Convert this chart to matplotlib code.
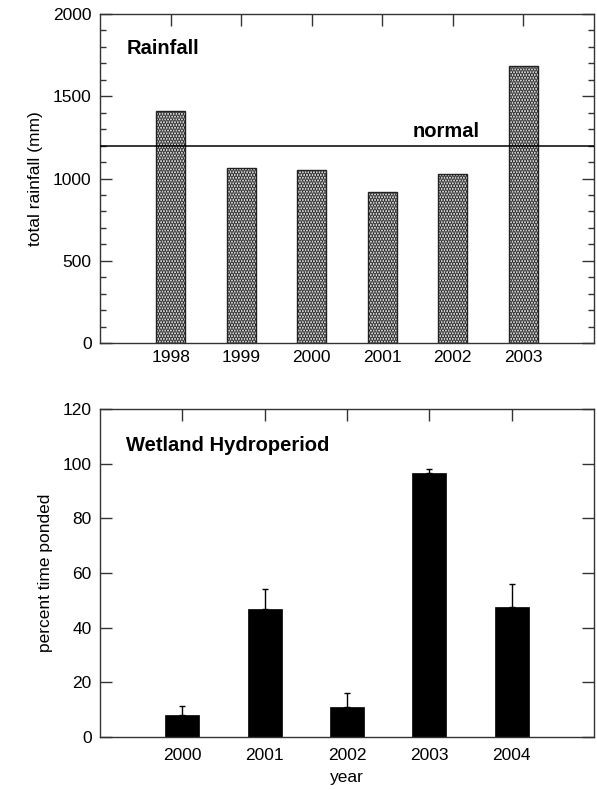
import matplotlib
matplotlib.use("Agg")
import matplotlib.pyplot as plt
from matplotlib.ticker import MultipleLocator

plt.rcParams["font.family"] = ["Liberation Sans", "DejaVu Sans"]
plt.rcParams["hatch.linewidth"] = 1.8

# rainfall per year
rain_years = [1998, 1999, 2000, 2001, 2002, 2003]
rain_mm = [1410, 1062, 1052, 920, 1027, 1682]
normal_rain = 1200

# wetland hydroperiod
wet_years = [2000, 2001, 2002, 2003, 2004]
pct_ponded = [8, 47, 11, 96.5, 47.5]
pct_err = [3.3, 7, 5, 1.5, 8.5]

fig = plt.figure(figsize=(5.97, 7.90), dpi=100)
ax1 = fig.add_axes([0.1675, 0.5658, 0.8275, 0.4165])
ax2 = fig.add_axes([0.1675, 0.0671, 0.8275, 0.4152])

spine_col = "#333333"
lab_fs = 12.5

# top panel
ax1.bar(rain_years, rain_mm, width=0.41, color="white", edgecolor="#222222",
        linewidth=1.0, hatch="......", zorder=2)
ax1.axhline(normal_rain, color="black", linewidth=1.1, zorder=3)
ax1.text(2001.9, normal_rain + 28, "normal", ha="center", va="bottom",
         fontsize=14.5, fontweight="bold")
ax1.text(0.053, 0.894, "Rainfall", transform=ax1.transAxes, ha="left",
         va="center", fontsize=14.5, fontweight="bold")
ax1.set_xlim(1997, 2004)
ax1.set_ylim(0, 2000)
ax1.set_xticks(rain_years)
ax1.yaxis.set_major_locator(MultipleLocator(500))
ax1.yaxis.set_minor_locator(MultipleLocator(100))
ax1.set_ylabel("total rainfall (mm)", fontsize=lab_fs, labelpad=7)

# bottom panel
ax2.bar(wet_years, pct_ponded, width=0.41, color="black", edgecolor="black",
        linewidth=0.5, zorder=2)
ax2.errorbar(wet_years, pct_ponded, yerr=[[0] * len(pct_err), pct_err],
             fmt="none", ecolor="black", elinewidth=1.0, capsize=2.5, capthick=1.0,
             zorder=1)
ax2.text(0.053, 0.89, "Wetland Hydroperiod", transform=ax2.transAxes, ha="left",
         va="center", fontsize=14.5, fontweight="bold")
ax2.set_xlim(1999, 2005)
ax2.set_ylim(0, 120)
ax2.set_xticks(wet_years)
ax2.yaxis.set_major_locator(MultipleLocator(20))
ax2.set_ylabel("percent time ponded", fontsize=lab_fs, labelpad=7)
ax2.set_xlabel("year", fontsize=lab_fs, labelpad=5)

for ax, xpad in ((ax1, 5), (ax2, 8)):
    for s in ax.spines.values():
        s.set_color(spine_col)
        s.set_linewidth(1.0)
    ax.tick_params(axis="x", which="both", direction="in", bottom=False, top=True,
                   length=8.5, width=1.0, color=spine_col, labelsize=lab_fs, pad=xpad)
    ax.tick_params(axis="y", which="major", direction="in", left=True, right=True,
                   length=8.5, width=1.0, color=spine_col, labelsize=lab_fs, pad=6)
    ax.tick_params(axis="y", which="minor", direction="in", left=True, right=True,
                   length=4.3, width=1.0, color=spine_col)

fig.savefig("out.png", dpi=100)
